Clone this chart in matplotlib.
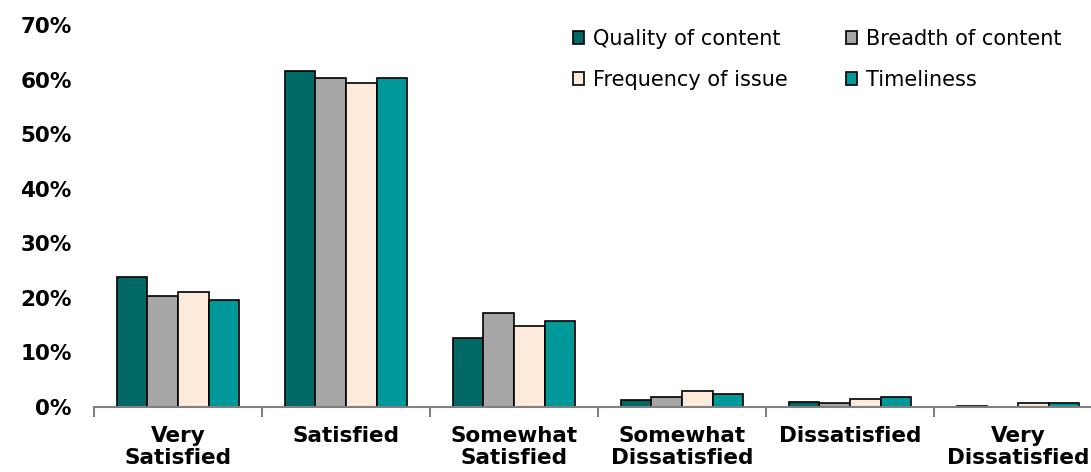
import matplotlib.pyplot as plt
import numpy as np
from matplotlib.ticker import FuncFormatter

categories = ['Very\nSatisfied', 'Satisfied', 'Somewhat\nSatisfied',
              'Somewhat\nDissatisfied', 'Dissatisfied', 'Very\nDissatisfied']
series = ['Quality of content', 'Breadth of content', 'Frequency of issue', 'Timeliness']

quality = [23.8, 61.6, 12.7, 1.2, 0.9, 0.2]
breadth = [20.3, 60.3, 17.2, 1.8, 0.75, 0.0]
frequency = [21.1, 59.4, 14.9, 3.0, 1.4, 0.8]
timeliness = [19.6, 60.2, 15.8, 2.3, 1.85, 0.7]

colors = ['#006966', '#A6A6A6', '#FDEADA', '#009999']

fig = plt.figure(figsize=(10.91, 4.72), dpi=100)
ax = fig.add_axes([94/1091, 65/472, 1008/1091, 382/472])

x = np.arange(len(categories))
w = 0.183
bars = []
for i, (vals, name) in enumerate(zip([quality, breadth, frequency, timeliness], series)):
    b = ax.bar(x + (i - 1.5) * w, vals, w, color=colors[i], edgecolor='black',
               linewidth=1.2, label=name)
    bars.append(b)

ax.set_xlim(-0.5, 5.5)
ax.set_ylim(0, 70)
ax.set_yticks(range(0, 71, 10))
ax.yaxis.set_major_formatter(FuncFormatter(lambda v, p: f'{int(v)}%'))
ax.tick_params(axis='y', length=0, pad=16, labelsize=15.5)
for t in ax.get_yticklabels():
    t.set_fontweight('bold')

ax.set_xticks(x)
ax.set_xticklabels(categories, fontsize=15.5, fontweight='bold', linespacing=1.1)
ax.tick_params(axis='x', length=0, pad=14)
ax.set_xticks(np.arange(-0.5, 6, 1), minor=True)
ax.tick_params(axis='x', which='minor', length=7, width=1.5, color='#808080', direction='out')

for s in ['top', 'right', 'left']:
    ax.spines[s].set_visible(False)
ax.spines['bottom'].set_color('#808080')
ax.spines['bottom'].set_linewidth(1.5)

# row-wise order: Quality, Breadth / Frequency, Timeliness
order = [0, 2, 1, 3]
fig.legend([bars[k] for k in order], [series[k] for k in order],
           loc='upper left', bbox_to_anchor=(573/1091, 1 - 29/472), ncol=2, frameon=False,
           fontsize=15, handlelength=0.55, handleheight=0.55, handletextpad=0.4,
           columnspacing=2.8, labelspacing=1.0, borderaxespad=0, borderpad=0)

plt.savefig('out.png', dpi=100)
